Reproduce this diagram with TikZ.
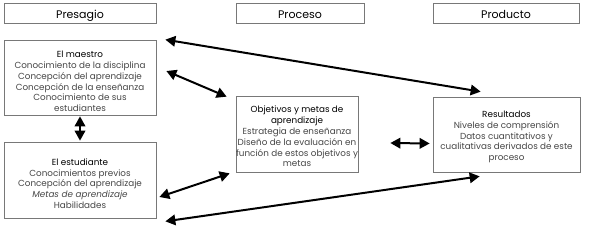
\documentclass[tikz,border=0pt]{standalone}
\usepackage{fontspec}
\setmainfont{Poppins}
\usepackage{tikz}
\usetikzlibrary{calc,arrows.meta,positioning}
\definecolor{boxGray}{RGB}{120,120,120}
\definecolor{txtGray}{RGB}{70,70,70}

\begin{document}
\begin{tikzpicture}[x=1pt,y=-1pt,
    head/.style={draw=boxGray, line width=0.7pt, minimum width=#1, minimum height=20pt,
        inner sep=0pt, text height=11pt, text depth=0pt, font=\fontsize{11}{13}\selectfont},
    panel/.style={draw=boxGray, line width=0.7pt, minimum width=#1, minimum height=75pt,
        inner sep=0pt},
    paneltext/.style={align=center, inner sep=0pt, text=txtGray, font=\fontsize{8.8}{10.8}\selectfont},
    link/.style={line width=2pt, {Triangle[length=10pt,width=10.5pt]}-{Triangle[length=10pt,width=10.5pt]}}]
    \useasboundingbox (0,0) rectangle (589,230);

    % headers
    \node[head=152pt] (presagio) at (80,13) {Presagio};
    \node[head=128pt] (proceso) at (300,13) {Proceso};
    \node[head=146pt] (producto) at (506,13) {Producto};

    % boxes
    \node[panel=152pt] (maestro) at (80,77.5) {};
    \node[panel=152pt, minimum height=76pt] (estudiante) at (80,180) {};
    \node[panel=122pt, minimum height=76pt] (objetivos) at (297,134) {};
    \node[panel=147pt] (resultados) at (506.5,134.5) {};

    % texts
    \node[paneltext] (maestroTxt) at ($(maestro)+(0,4)$) {\textcolor{black}{El maestro}\\
        Conocimiento de la disciplina\\ Concepción del aprendizaje\\
        Concepción de la enseñanza\\ Conocimiento de sus\\ estudiantes};
    \node[paneltext] (estudianteTxt) at ($(estudiante)+(0,3.5)$) {\textcolor{black}{El estudiante}\\
        Conocimientos previos\\ Concepción del aprendizaje\\
        \textit{Metas de aprendizaje}\\ Habilidades};
    \node[paneltext] (objetivosTxt) at ($(objetivos)+(0,2.5)$) {\textcolor{black}{Objetivos y metas de}\\
        \textcolor{black}{aprendizaje}\\ Estrategia de enseñanza\\
        Diseño de la evaluación en\\ función de estos objetivos y\\ metas};
    \node[paneltext] (resultadosTxt) at ($(resultados)+(0,2.5)$) {\textcolor{black}{Resultados}\\
        Niveles de comprensión\\ Datos cuantitativos y\\
        cualitativas derivados de este\\ proceso};

    % arrows
    \draw[link] ($(maestro.north east)+(9,0)$) -- ($(resultados.north west)+(48,-5)$);
    \draw[link] ($(maestro.east)+(10,-6.5)$) -- ($(objetivos.north west)+(-9,1)$);
    \draw[link] ($(maestro.south)+(0,1)$) -- ($(estudiante.north)+(0,-1)$);
    \draw[link] ($(estudiante.east)+(3,17)$) -- ($(objetivos.south west)+(-6,1)$);
    \draw[link] ($(objetivos.east)+(32,9)$) -- ($(resultados.west)+(-3,9)$);
    \draw[link] ($(estudiante.south east)+(9,3)$) -- ($(resultados.south west)+(47,4)$);
\end{tikzpicture}
\end{document}
